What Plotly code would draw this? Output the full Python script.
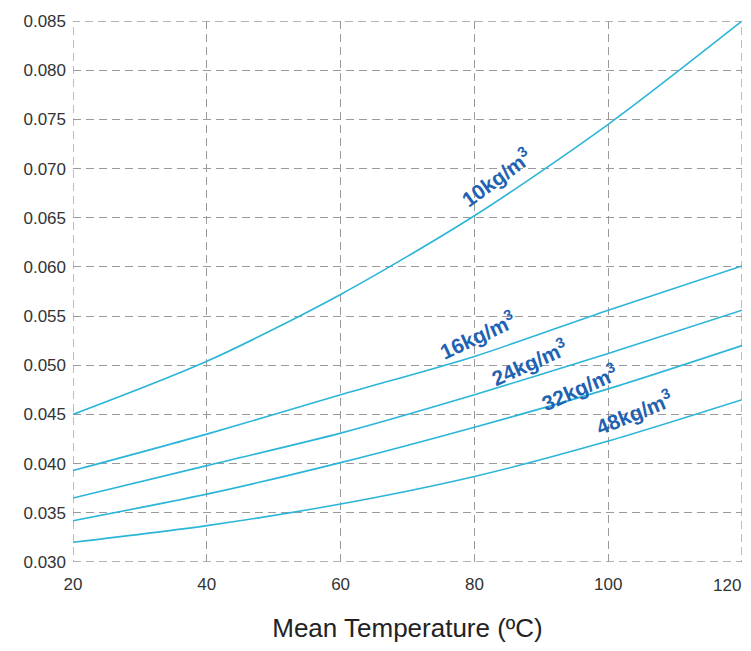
import plotly.graph_objects as go

temps = [20, 40, 60, 80, 100, 120]
k_10 = [0.0450, 0.0504, 0.0572, 0.0652, 0.0745, 0.0850]
k_16 = [0.0393, 0.0430, 0.0470, 0.0509, 0.0556, 0.0601]
k_24 = [0.0365, 0.0398, 0.0431, 0.0470, 0.0512, 0.0556]
k_32 = [0.0342, 0.0369, 0.0401, 0.0437, 0.0476, 0.0520]
k_48 = [0.0320, 0.0337, 0.0359, 0.0387, 0.0423, 0.0465]

series = [("10kg/m<sup>3</sup>", k_10), ("16kg/m<sup>3</sup>", k_16),
          ("24kg/m<sup>3</sup>", k_24), ("32kg/m<sup>3</sup>", k_32),
          ("48kg/m<sup>3</sup>", k_48)]

# label placement (x, y in data units, angle)
label_x = [83.3, 80.4, 88.2, 95.7, 103.9]
label_y = [0.0691, 0.0531, 0.0503, 0.0478, 0.0452]
label_angle = [-36, -25, -24, -24, -22]

y_ticks = [0.030, 0.035, 0.040, 0.045, 0.050, 0.055, 0.060, 0.065, 0.070, 0.075, 0.080, 0.085]
x_ticks = [20, 40, 60, 80, 100, 120]

GRID_COLOR = "#9a9a9a"
DASH = "8px,5px"
FONT = "Liberation Sans, Arial, sans-serif"
TICKFONT = dict(family=FONT, size=17, color="#333333")

fig = go.Figure()
for name, vals in series:
    fig.add_trace(go.Scatter(x=temps, y=vals, mode="lines", name=name,
                             line=dict(color="#2bb5d8", width=1.6, shape="spline", smoothing=0.8),
                             showlegend=False, hoverinfo="skip", cliponaxis=False))

for (name, _), lx, ly, ang in zip(series, label_x, label_y, label_angle):
    fig.add_annotation(x=lx, y=ly, text="<b>" + name + "</b>", showarrow=False,
                       textangle=ang, font=dict(family=FONT, size=21, color="#1f62b2"))

# last x tick label, right-aligned so it stays inside the picture
fig.add_annotation(x=x_ticks[-1], xref="x", y=0, yref="paper", text=str(x_ticks[-1]),
                   showarrow=False, xanchor="right", yanchor="top", xshift=1, yshift=-12,
                   font=TICKFONT)

# dashed frame on the plot border
fig.add_shape(type="rect", xref="x", yref="y", x0=x_ticks[0], x1=x_ticks[-1],
              y0=y_ticks[0], y1=y_ticks[-1], layer="below",
              line=dict(color=GRID_COLOR, width=1.3, dash=DASH))

grid = dict(showgrid=True, gridcolor=GRID_COLOR, gridwidth=1.3, griddash=DASH,
            zeroline=False, showline=False, ticks="", automargin=False)

fig.update_layout(
    width=735, height=635,
    margin=dict(l=65, r=1, t=13, b=81),
    plot_bgcolor="white", paper_bgcolor="white",
    xaxis=dict(range=[20, 120], tickvals=x_ticks,
               ticktext=[str(t) for t in x_ticks[:-1]] + [""],
               tickfont=TICKFONT, ticklabelstandoff=10,
               title=dict(text="Mean Temperature (ºC)", standoff=31,
                          font=dict(family=FONT, size=26, color="#222222")),
               **grid),
    yaxis=dict(range=[0.030, 0.085], tickvals=y_ticks, ticktext=["%.3f" % v for v in y_ticks],
               tickfont=TICKFONT, ticklabelstandoff=6, **grid),
)

fig.write_html("out.html")
